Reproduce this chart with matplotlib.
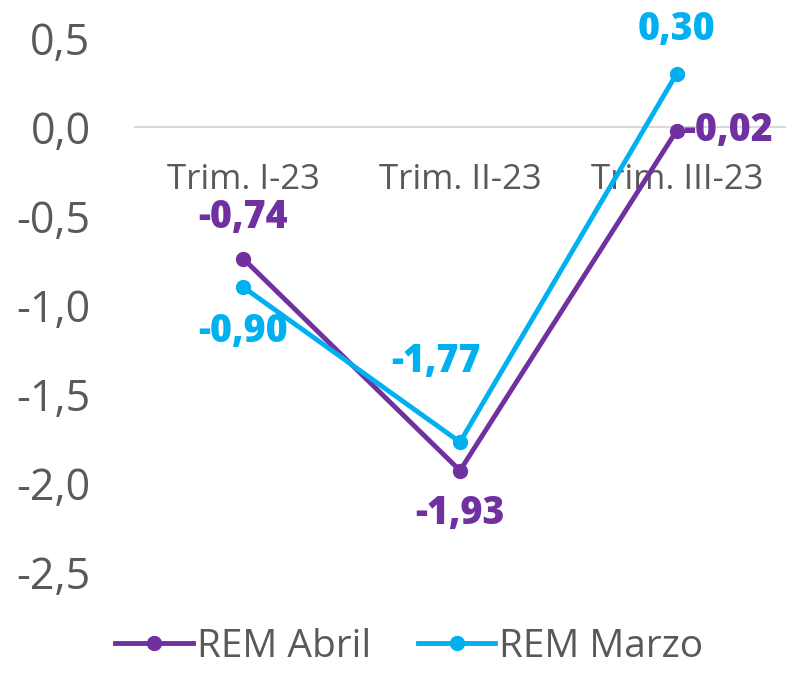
import matplotlib
matplotlib.use("Agg")
import matplotlib.pyplot as plt

categorias = ["Trim. I-23", "Trim. II-23", "Trim. III-23"]
rem_abril = [-0.74, -1.93, -0.02]
rem_marzo = [-0.90, -1.77, 0.30]
etiquetas_y = [0.5, 0.0, -0.5, -1.0, -1.5, -2.0, -2.5]

morado = "#7030A0"
celeste = "#00B0F0"
gris = "#595959"

plt.rcParams["font.family"] = ["Open Sans", "DejaVu Sans"]

fig = plt.figure(figsize=(7.87, 6.74), dpi=100)
ax = fig.add_axes([0.1715, 0.1513, 0.826, 0.7923])

x = list(range(len(categorias)))
ax.plot(x, rem_abril, color=morado, lw=3.5, marker="o", ms=10, label="REM Abril", zorder=3)
ax.plot(x, rem_marzo, color=celeste, lw=3.5, marker="o", ms=10, label="REM Marzo", zorder=3)

ax.set_xlim(-0.5, 2.5)
ax.set_ylim(-2.5, 0.5)
ax.set_yticks(etiquetas_y)
ax.set_yticklabels([f"{v:.1f}".replace(".", ",") for v in etiquetas_y])
ax.set_xticks(x)
ax.set_xticklabels(categorias)

for s in ["top", "right", "left"]:
    ax.spines[s].set_visible(False)
ax.spines["bottom"].set_position(("data", 0))
ax.spines["bottom"].set_color("#D9D9D9")
ax.spines["bottom"].set_linewidth(1.5)
ax.tick_params(axis="x", length=0, pad=26, labelsize=25, labelcolor=gris)
ax.tick_params(axis="y", length=0, pad=32, labelsize=31, labelcolor=gris)

def fmt(v):
    return f"{v:.2f}".replace(".", ",")

# etiquetas de datos
offs_abril = [(0, 16, "center", "bottom"), (0, -17, "center", "top"), (5, 0, "left", "center")]
offs_marzo = [(0, -18, "center", "top"), (-17, 44, "center", "bottom"), (0, 18, "center", "bottom")]
for xi, v, o in zip(x, rem_abril, offs_abril):
    ax.annotate(fmt(v), (xi, v), xytext=o[:2], textcoords="offset points",
                ha=o[2], va=o[3], color=morado, fontsize=27, fontweight="heavy",
                annotation_clip=False)
for xi, v, o in zip(x, rem_marzo, offs_marzo):
    ax.annotate(fmt(v), (xi, v), xytext=o[:2], textcoords="offset points",
                ha=o[2], va=o[3], color=celeste, fontsize=27, fontweight="heavy",
                annotation_clip=False)

leg = fig.legend(loc="lower center", ncol=2, frameon=False, fontsize=28,
                 bbox_to_anchor=(0.52, -0.04), handlelength=2.0, handletextpad=0.1,
                 columnspacing=1.2)
for t in leg.get_texts():
    t.set_color(gris)

fig.savefig("out.png", dpi=100)
